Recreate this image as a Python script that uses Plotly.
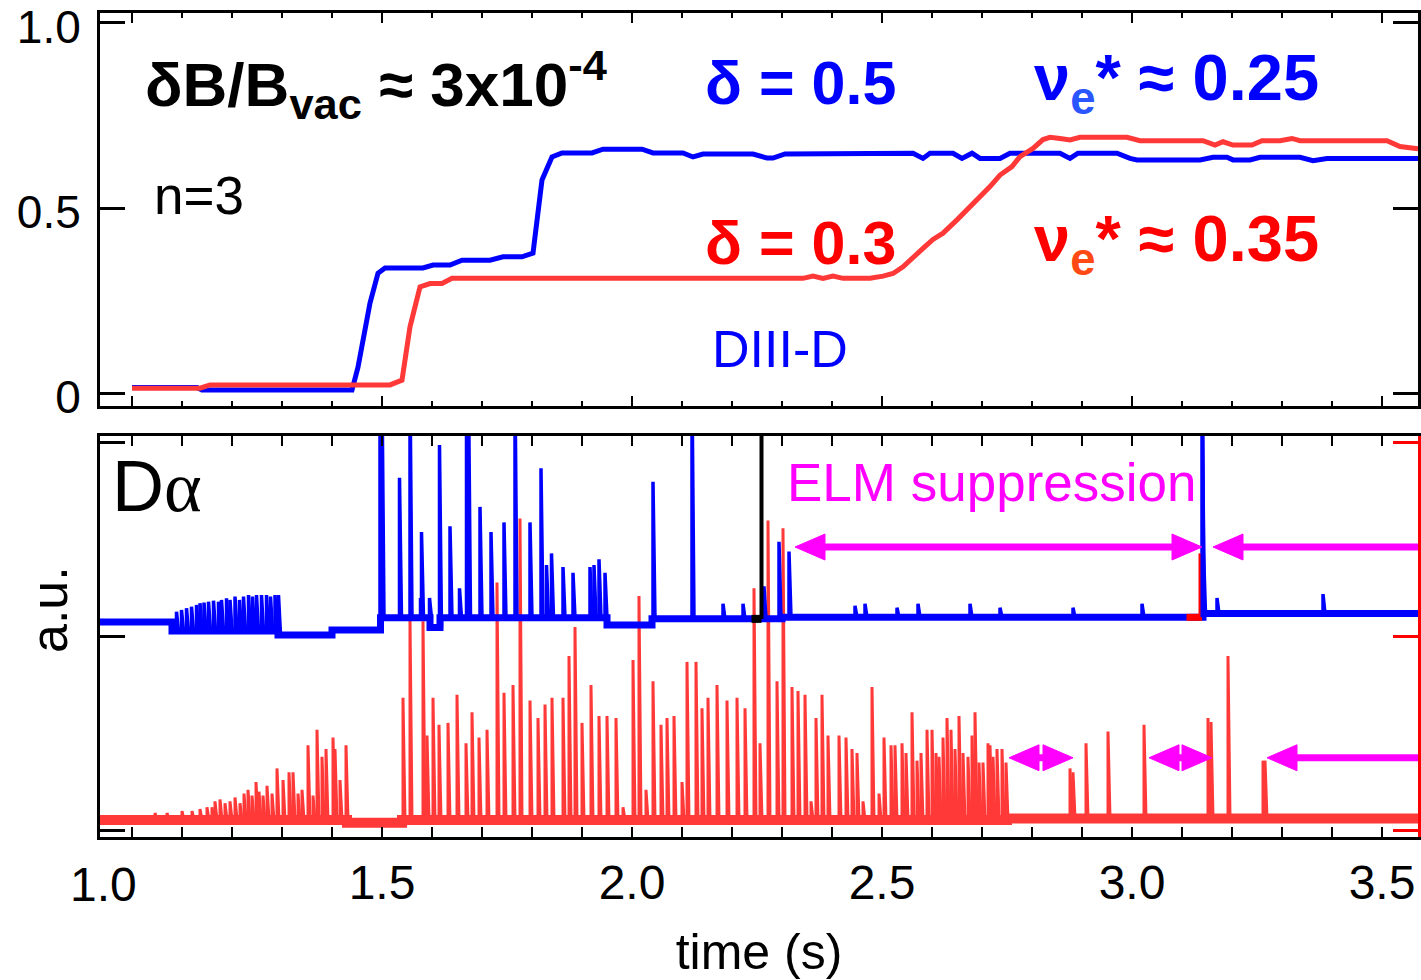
import numpy as np
import plotly.graph_objects as go

# ---------------- top panel: dB/B_vac (normalised) vs time ----------------
t_delta05 = [1.000, 1.130, 1.140, 1.440, 1.452, 1.476, 1.492, 1.506, 1.516, 1.582,
             1.602, 1.636, 1.660, 1.716, 1.742, 1.780, 1.802, 1.820, 1.840, 1.860,
             1.920, 1.942, 2.020, 2.042, 2.102, 2.122, 2.142, 2.242, 2.270, 2.282,
             2.306, 2.562, 2.582, 2.596, 2.642, 2.660, 2.680, 2.696, 2.736, 2.756,
             2.856, 2.876, 2.892, 2.970, 2.996, 3.010, 3.136, 3.162, 3.190, 3.202,
             3.236, 3.256, 3.336, 3.362, 3.390, 3.572]
b_delta05 = [0.015, 0.015, 0.008, 0.008, 0.070, 0.243, 0.324, 0.338, 0.338, 0.338,
             0.346, 0.346, 0.359, 0.359, 0.368, 0.368, 0.378, 0.576, 0.638, 0.649,
             0.649, 0.659, 0.659, 0.649, 0.649, 0.638, 0.646, 0.646, 0.635, 0.635,
             0.646, 0.648, 0.634, 0.648, 0.648, 0.634, 0.648, 0.634, 0.634, 0.648,
             0.648, 0.634, 0.648, 0.648, 0.634, 0.630, 0.630, 0.637, 0.637, 0.630,
             0.630, 0.637, 0.637, 0.628, 0.634, 0.634]

t_delta03 = [1.000, 1.136, 1.156, 1.516, 1.540, 1.556, 1.576, 1.596, 1.620, 1.640,
             2.342, 2.362, 2.382, 2.402, 2.422, 2.476, 2.502, 2.522, 2.542, 2.570,
             2.582, 2.602, 2.622, 2.650, 2.670, 2.696, 2.716, 2.736, 2.760, 2.776,
             2.802, 2.822, 2.836, 2.856, 2.876, 2.896, 2.990, 3.016, 3.142, 3.166,
             3.182, 3.202, 3.240, 3.260, 3.296, 3.320, 3.336, 3.510, 3.536, 3.572]
b_delta03 = [0.013, 0.013, 0.022, 0.022, 0.035, 0.179, 0.287, 0.296, 0.296, 0.310,
             0.310, 0.316, 0.310, 0.316, 0.310, 0.310, 0.316, 0.323, 0.341, 0.378,
             0.391, 0.415, 0.432, 0.468, 0.495, 0.531, 0.558, 0.589, 0.612, 0.639,
             0.661, 0.685, 0.691, 0.688, 0.684, 0.691, 0.691, 0.682, 0.682, 0.670,
             0.679, 0.670, 0.670, 0.682, 0.682, 0.688, 0.682, 0.682, 0.666, 0.660]

# ---------------- bottom panel: D-alpha (a.u.) ----------------
# quiet baseline levels, each holding from its start time to the next one
blue_base_t = [0.936, 1.080, 1.292, 1.400, 1.497, 1.596, 1.616, 1.950, 2.040, 2.300, 3.142]
blue_base_v = [1.076, 1.030, 1.009, 1.035, 1.098, 1.047, 1.098, 1.060, 1.092, 1.100, 1.120]
red_base_t = [0.936, 1.430, 1.540, 2.750]
red_base_v = [0.054, 0.040, 0.054, 0.062]
t_end = 3.572

# ELM bursts: onset time and peak level (values above 2.04 run off the frame)
blue_elm_t = [1.089, 1.099, 1.109, 1.119, 1.129, 1.136, 1.144, 1.153, 1.163, 1.173,
              1.179, 1.189, 1.196, 1.206, 1.215, 1.223, 1.233, 1.241, 1.249, 1.259,
              1.269, 1.277, 1.286, 1.293,
              1.496, 1.500, 1.535, 1.556, 1.577, 1.579, 1.595, 1.615, 1.636, 1.655,
              1.669, 1.673, 1.696, 1.718, 1.744, 1.766, 1.796, 1.818, 1.829, 1.839,
              1.862, 1.882, 1.916, 1.924, 1.934, 1.946, 2.042, 2.120, 2.182, 2.222,
              2.264, 2.294, 2.314, 2.446, 2.466, 2.530, 2.572, 2.676, 2.736, 2.882,
              3.020, 3.1405, 3.143, 3.170, 3.382]
blue_elm_v = [1.129, 1.138, 1.147, 1.155, 1.164, 1.173, 1.176, 1.181, 1.186, 1.181,
              1.190, 1.198, 1.190, 1.207, 1.190, 1.207, 1.215, 1.207, 1.215, 1.215,
              1.215, 1.207, 1.215, 1.215,
              2.30, 2.30, 1.82, 2.30, 1.20, 1.54, 1.20, 1.99, 1.57, 1.25,
              2.30, 2.30, 1.67, 1.54, 1.59, 2.30, 1.59, 1.87, 1.37, 1.43,
              1.36, 1.33, 1.36, 1.37, 1.40, 1.33, 1.80, 2.30, 1.17, 1.17,
              1.26, 1.49, 1.44, 1.16, 1.17, 1.15, 1.17, 1.17, 1.15, 1.15,
              1.17, 2.30, 1.44, 1.20, 1.22]

red_elm_t = [1.046, 1.070, 1.100, 1.120, 1.136, 1.150, 1.160, 1.166, 1.176, 1.186,
             1.196, 1.206, 1.216, 1.224, 1.232, 1.240, 1.248, 1.254, 1.262, 1.270,
             1.280, 1.290, 1.302, 1.314, 1.322, 1.332, 1.340, 1.352, 1.362, 1.370,
             1.380, 1.388, 1.402, 1.406, 1.416, 1.428,
             1.542, 1.556, 1.582, 1.590, 1.602, 1.614, 1.632, 1.650, 1.668, 1.680,
             1.694, 1.710, 1.730, 1.744, 1.762, 1.776, 1.796, 1.812, 1.826, 1.840,
             1.862, 1.874, 1.886, 1.900, 1.918, 1.934, 1.950, 1.968, 1.982, 2.002,
             2.014, 2.028, 2.042, 2.058, 2.070, 2.084, 2.100, 2.110, 2.128, 2.140,
             2.152, 2.170, 2.190, 2.210, 2.226, 2.244, 2.256, 2.272, 2.290, 2.302,
             2.320, 2.332, 2.346, 2.358, 2.368, 2.380, 2.392, 2.414, 2.428, 2.440,
             2.450, 2.462, 2.480, 2.494, 2.504, 2.518, 2.526, 2.540, 2.548, 2.560,
             2.570, 2.578, 2.590, 2.600, 2.608, 2.614, 2.622, 2.630, 2.638, 2.646,
             2.654, 2.662, 2.672, 2.680, 2.686, 2.694, 2.702, 2.712, 2.716, 2.722,
             2.730, 2.740, 2.748,
             2.876, 2.882, 2.908, 2.952, 3.024, 3.152, 3.158, 3.192, 3.262, 3.266]
red_elm_v = [0.09, 0.09, 0.10, 0.10, 0.11, 0.12, 0.12, 0.15, 0.16, 0.14,
             0.15, 0.17, 0.14, 0.19, 0.21, 0.18, 0.25, 0.20, 0.18, 0.23,
             0.19, 0.32, 0.26, 0.30, 0.30, 0.19, 0.21, 0.44, 0.18, 0.52,
             0.38, 0.42, 0.48, 0.42, 0.26, 0.44,
             0.685, 1.09, 1.08, 0.49, 0.685, 0.545, 0.555, 0.70, 0.45, 0.61,
             0.48, 0.52, 1.28, 0.71, 0.75, 1.61, 0.67, 0.58, 0.65, 0.685,
             0.685, 0.90, 1.05, 0.555, 0.75, 0.59, 0.59, 0.58, 0.12, 0.88,
             1.21, 0.21, 0.77, 0.545, 0.58, 0.59, 0.25, 0.87, 0.87, 0.63,
             0.685, 0.75, 0.67, 0.685, 0.63, 1.25, 0.45, 1.60, 0.77, 1.56,
             0.74, 0.72, 0.70, 0.15, 0.58, 0.70, 0.49, 0.49, 0.48, 0.42,
             0.40, 0.15, 0.74, 0.19, 0.48, 0.44, 0.44, 0.45, 0.40, 0.61,
             0.36, 0.40, 0.52, 0.52, 0.40, 0.38, 0.48, 0.58, 0.52, 0.42,
             0.59, 0.40, 0.38, 0.49, 0.61, 0.35, 0.35, 0.45, 0.44, 0.38,
             0.42, 0.42, 0.35,
             0.32, 0.30, 0.45, 0.51, 0.545, 0.58, 0.56, 0.90, 0.36, 0.36]

# marked instants on the delta=0.5 trace
black_mark_t = [2.239, 2.259]       # black stretch, then black burst at its end
red_mark_t = [3.109, 3.140]         # red stretch, with a red burst at 3.136
red_mark_burst = [3.136, 1.43]

# ELM-suppression windows (double-headed / open-ended arrows)
arrow_level = [1.463, 1.463, 0.375, 0.375, 0.375]
arrow_t0 = [2.326, 3.162, 2.754, 3.034, 3.270]
arrow_t1 = [3.140, 3.572, 2.882, 3.160, 3.572]
arrow_right_head = [True, False, True, True, False]

x_ticks = [1.0, 1.5, 2.0, 2.5, 3.0, 3.5]

# ---------------- geometry / style ----------------
W, H = 1421, 980
PX_L, PX_R = 100, 1418
TOP_T, TOP_B = 13, 406
BOT_T, BOT_B = 436, 837
X_RANGE = [0.936, 3.572]
Y1_RANGE = [-0.035, 1.027]
Y2_RANGE = [-0.034, 2.036]

BLUE = "#0000ff"
RED = "#ff3838"
MAGENTA = "#ff00ff"
SANS = "Liberation Sans, Arial, Helvetica, sans-serif"

px_per_s = (PX_R - PX_L) / (X_RANGE[1] - X_RANGE[0])
px_per_u = (BOT_B - BOT_T) / (Y2_RANGE[1] - Y2_RANGE[0])


def level_at(t, starts, levels):
    i = np.searchsorted(starts, t, side="right") - 1
    return levels[max(i, 0)]


def burst_path(times, peaks, starts, levels, dt=0.004):
    xs, ys = [], []
    for t, p in zip(times, peaks):
        b = level_at(t, starts, levels)
        xs += [t, t, t + dt, None]
        ys += [b, p, b, None]
    return xs, ys


fig = go.Figure()

# top panel curves
fig.add_trace(go.Scatter(x=t_delta05, y=b_delta05, mode="lines",
                         line=dict(color=BLUE, width=5), xaxis="x", yaxis="y"))
fig.add_trace(go.Scatter(x=t_delta03, y=b_delta03, mode="lines",
                         line=dict(color=RED, width=5), xaxis="x", yaxis="y"))

# bottom panel: delta = 0.3 D-alpha
rx, ry = burst_path(red_elm_t, red_elm_v, red_base_t, red_base_v)
fig.add_trace(go.Scatter(x=rx, y=ry, mode="lines", line=dict(color=RED, width=3),
                         xaxis="x2", yaxis="y2"))
fig.add_trace(go.Scatter(x=red_base_t + [t_end], y=red_base_v + [red_base_v[-1]],
                         mode="lines", line=dict(color=RED, width=10, shape="hv"),
                         xaxis="x2", yaxis="y2"))

# bottom panel: delta = 0.5 D-alpha
fig.add_trace(go.Scatter(x=blue_base_t + [t_end], y=blue_base_v + [blue_base_v[-1]],
                         mode="lines", line=dict(color=BLUE, width=7, shape="hv"),
                         xaxis="x2", yaxis="y2"))
bx, by = burst_path(blue_elm_t, blue_elm_v, blue_base_t, blue_base_v)
fig.add_trace(go.Scatter(x=bx, y=by, mode="lines", line=dict(color=BLUE, width=3.5),
                         xaxis="x2", yaxis="y2"))

# black marker on the blue trace
kb = level_at(black_mark_t[0], blue_base_t, blue_base_v)
fig.add_trace(go.Scatter(x=black_mark_t, y=[kb, kb], mode="lines",
                         line=dict(color="black", width=8), xaxis="x2", yaxis="y2"))
fig.add_trace(go.Scatter(x=[black_mark_t[1], black_mark_t[1]], y=[kb, Y2_RANGE[1] + 0.5],
                         mode="lines", line=dict(color="black", width=4),
                         xaxis="x2", yaxis="y2"))

# red marker on the blue trace
rb = level_at(red_mark_t[0], blue_base_t, blue_base_v)
fig.add_trace(go.Scatter(x=red_mark_t, y=[rb, rb], mode="lines",
                         line=dict(color="#ff0000", width=7), xaxis="x2", yaxis="y2"))
fig.add_trace(go.Scatter(x=[red_mark_burst[0]] * 2, y=[rb, red_mark_burst[1]], mode="lines",
                         line=dict(color="#ff0000", width=3), xaxis="x2", yaxis="y2"))
# blue burst drawn again so it stays in front of the red marker
fig.add_trace(go.Scatter(x=[3.1405, 3.1405, 3.143], y=[rb, 2.3, 1.44], mode="lines",
                         line=dict(color=BLUE, width=3.5), xaxis="x2", yaxis="y2"))

# arrows
head_len = 30 / px_per_s
head_half = 13 / px_per_u
sx, sy, hx, hy = [], [], [], []
for lv, a, b, rh in zip(arrow_level, arrow_t0, arrow_t1, arrow_right_head):
    sx += [a + head_len * 0.5, (b - head_len * 0.5) if rh else b, None]
    sy += [lv, lv, None]
    hx += [a, a + head_len, a + head_len, a, None]
    hy += [lv, lv + head_half, lv - head_half, lv, None]
    if rh:
        hx += [b, b - head_len, b - head_len, b, None]
        hy += [lv, lv + head_half, lv - head_half, lv, None]
fig.add_trace(go.Scatter(x=sx, y=sy, mode="lines", line=dict(color=MAGENTA, width=7),
                         xaxis="x2", yaxis="y2"))
fig.add_trace(go.Scatter(x=hx, y=hy, mode="lines", fill="toself", fillcolor=MAGENTA,
                         line=dict(color=MAGENTA, width=1), xaxis="x2", yaxis="y2"))

axis_common = dict(showgrid=False, zeroline=False, showline=True, linecolor="black",
                   linewidth=3, ticks="inside", tickcolor="black", automargin=False)

xaxis_common = dict(axis_common, range=X_RANGE, domain=[PX_L / W, PX_R / W],
                    tickmode="array", tickvals=x_ticks, ticklen=10, tickwidth=2,
                    mirror="allticks",
                    minor=dict(dtick=0.1, tick0=0, ticks="inside", ticklen=5,
                               tickwidth=2, tickcolor="black", showgrid=False))

fig.update_layout(
    width=W, height=H, margin=dict(l=0, r=0, t=0, b=0),
    paper_bgcolor="white", plot_bgcolor="white", showlegend=False,
    xaxis=dict(xaxis_common, anchor="y", showticklabels=False),
    yaxis=dict(axis_common, range=Y1_RANGE, domain=[1 - TOP_B / H, 1 - TOP_T / H],
               anchor="x", tickmode="array", tickvals=[0, 0.5, 1.0],
               ticktext=["0", "0.5", "1.0"], ticklen=25, tickwidth=3,
               mirror="allticks", ticklabelstandoff=7, ticklabelshift=4,
               ticklabeloverflow="allow",
               tickfont=dict(family=SANS, size=46, color="black")),
    xaxis2=dict(xaxis_common, anchor="y2", showticklabels=True,
                ticktext=["", "1.5", "2.0", "2.5", "3.0", "3.5"],
                tickfont=dict(family=SANS, size=48, color="black"),
                ticklabelstandoff=1,
                title=dict(text="time (s)", standoff=34,
                           font=dict(family=SANS, size=50, color="black"))),
    yaxis2=dict(axis_common, range=Y2_RANGE, domain=[1 - BOT_B / H, 1 - BOT_T / H],
                anchor="x2", tickmode="array", tickvals=[0, 1, 2], ticklen=25,
                tickwidth=3, showticklabels=False, mirror=False),
    yaxis3=dict(axis_common, range=Y2_RANGE, overlaying="y2", anchor="x2", side="right",
                linecolor="#ff0000", tickcolor="#ff0000", tickmode="array",
                tickvals=[0, 1, 2], ticklen=25, tickwidth=3, showticklabels=False),
)
# placeholder trace so the right-hand axis is rendered
fig.add_trace(go.Scatter(x=[None], y=[None], xaxis="x2", yaxis="y3", showlegend=False))

ann = []
# first x label sits left of its tick, under the frame corner
ann.append(dict(x=X_RANGE[0] + 0.006, y=1 - 884 / H, xref="x2", yref="paper",
                text="1.0", showarrow=False, xanchor="center", yanchor="middle",
                font=dict(family=SANS, size=48, color="black")))
ann.append(dict(x=49 / W, y=1 - 610 / H, xref="paper", yref="paper", text="a.u.",
                textangle=-90, showarrow=False, xanchor="center", yanchor="middle",
                font=dict(family=SANS, size=52, color="black")))

ann.append(dict(x=1.022, y=0.835, xref="x", yref="y",
                text="<b>δB/B<sub>vac</sub> ≈ 3x10<sup>-4</sup></b>",
                showarrow=False, xanchor="left", yanchor="middle",
                font=dict(family=SANS, size=62, color="black")))
ann.append(dict(x=2.142, y=0.838, xref="x", yref="y", text="<b>δ = 0.5</b>",
                showarrow=False, xanchor="left", yanchor="middle",
                font=dict(family=SANS, size=61, color=BLUE)))
ann.append(dict(x=2.800, y=0.838, xref="x", yref="y",
                text="<b>ν<sub><span style='color:#2a55ff'>e</span></sub>* ≈ 0.25</b>",
                showarrow=False, xanchor="left", yanchor="middle",
                font=dict(family=SANS, size=65, color=BLUE)))
ann.append(dict(x=2.142, y=0.405, xref="x", yref="y", text="<b>δ = 0.3</b>",
                showarrow=False, xanchor="left", yanchor="middle",
                font=dict(family=SANS, size=61, color="#ff0000")))
ann.append(dict(x=2.800, y=0.405, xref="x", yref="y",
                text="<b>ν<sub><span style='color:#ff4a14'>e</span></sub>* ≈ 0.35</b>",
                showarrow=False, xanchor="left", yanchor="middle",
                font=dict(family=SANS, size=65, color="#ff0000")))
ann.append(dict(x=1.040, y=0.535, xref="x", yref="y", text="n=3", showarrow=False,
                xanchor="left", yanchor="middle",
                font=dict(family=SANS, size=53, color="black")))
ann.append(dict(x=2.156, y=0.119, xref="x", yref="y", text="DIII-D", showarrow=False,
                xanchor="left", yanchor="middle",
                font=dict(family=SANS, size=52, color=BLUE)))
ann.append(dict(x=0.956, y=1.773, xref="x2", yref="y2",
                text="D<span style='font-family:Liberation Serif, Times New Roman, serif'>α</span>",
                showarrow=False, xanchor="left", yanchor="middle",
                font=dict(family=SANS, size=72, color="black")))
ann.append(dict(x=2.306, y=1.794, xref="x2", yref="y2", text="ELM suppression",
                showarrow=False, xanchor="left", yanchor="middle",
                font=dict(family=SANS, size=53, color=MAGENTA)))
fig.update_layout(annotations=ann)

fig.write_html("out.html")
